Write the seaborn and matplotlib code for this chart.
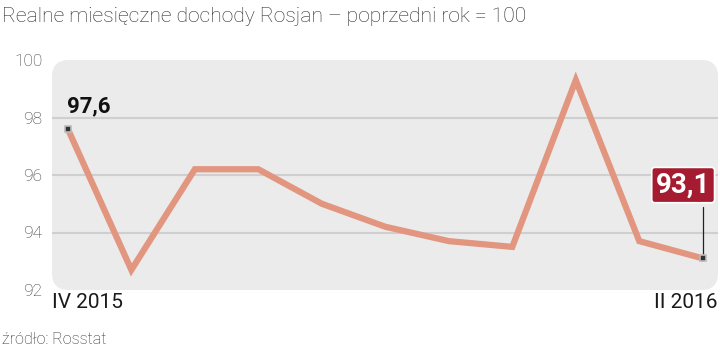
import matplotlib
matplotlib.use("Agg")
import matplotlib.pyplot as plt
import seaborn as sns
import pandas as pd
from matplotlib.patches import FancyBboxPatch

months = ["IV 2015", "V 2015", "VI 2015", "VII 2015", "VIII 2015", "IX 2015",
          "X 2015", "XI 2015", "XII 2015", "I 2016", "II 2016"]
values = [97.6, 92.7, 96.2, 96.2, 95.0, 94.2, 93.7, 93.5, 99.3, 93.7, 93.1]
y_ticks = [92, 94, 96, 98, 100]
title = "Realne miesięczne dochody Rosjan – poprzedni rok = 100"
source = "źródło: Rosstat"

df = pd.DataFrame({"idx": range(len(months)), "month": months, "value": values})

sns.set_theme(style="white")
FONT = ["Roboto", "DejaVu Sans"]
plt.rcParams["font.family"] = FONT

fig = plt.figure(figsize=(7.2, 3.5), dpi=100)
ax = fig.add_axes([52 / 720, 1 - 290 / 350, 666 / 720, 230 / 350])
ax.set_facecolor("none")
for s in ax.spines.values():
    s.set_visible(False)

bg = FancyBboxPatch((0, 0), 1, 1, boxstyle="round,pad=0,rounding_size=0.025",
                    transform=ax.transAxes, facecolor="#ebebeb", edgecolor="none",
                    zorder=0, mutation_aspect=666 / 230)
ax.add_patch(bg)

for yv in [94, 96, 98]:
    ax.axhline(yv, color="#cfcfcf", lw=1.5, zorder=1)

sns.lineplot(data=df, x="idx", y="value", ax=ax, color="#e3967f", lw=4.5,
             zorder=3, solid_joinstyle="miter", legend=False)

ax.set_xlim(-0.25, len(months) - 1 + 0.24)
ax.set_ylim(92, 100)
ax.set_yticks(y_ticks)
ax.set_yticklabels([str(t) for t in y_ticks], fontsize=12.5, color="#3a3a3a",
                   fontweight="light")
ax.tick_params(axis="y", length=0, pad=7)
ax.set_xticks([])
ax.set_xlabel("")
ax.set_ylabel("")

# endpoint markers
for i in [0, len(values) - 1]:
    ax.plot(i, values[i], marker="s", ms=5, mfc="#333333", mec="#bbbbbb",
            mew=1.2, zorder=5)

ax.text(-0.02, values[0] + 0.4, f"{values[0]:.1f}".replace(".", ","), fontsize=16,
        fontweight="bold", color="#111111", ha="left", va="bottom", zorder=6)

last = len(values) - 1
ax.plot([last, last], [values[last], 94.9], color="#222222", lw=0.9, zorder=4)
ax.text(last + 0.12, 95.65, f"{values[last]:.1f}".replace(".", ","), fontsize=20,
        fontweight="bold", color="white", ha="right", va="center", zorder=6,
        bbox=dict(boxstyle="round,pad=0.15,rounding_size=0.12", fc="#a51c30",
                  ec="white", lw=1.2))

fig.text(52 / 720, 1 - 303 / 350, months[0], fontsize=15, color="#1a1a1a",
         ha="left", va="center")
fig.text(718 / 720, 1 - 303 / 350, months[-1], fontsize=15, color="#1a1a1a",
         ha="right", va="center")
fig.text(2 / 720, 1 - 16 / 350, title, fontsize=15.2, color="#2a2a2a",
         fontweight="light", ha="left", va="center")
fig.text(2 / 720, 1 - 340 / 350, source, fontsize=11.5, color="#2a2a2a",
         fontweight="light", ha="left", va="center")

fig.savefig("out.png", dpi=100)
